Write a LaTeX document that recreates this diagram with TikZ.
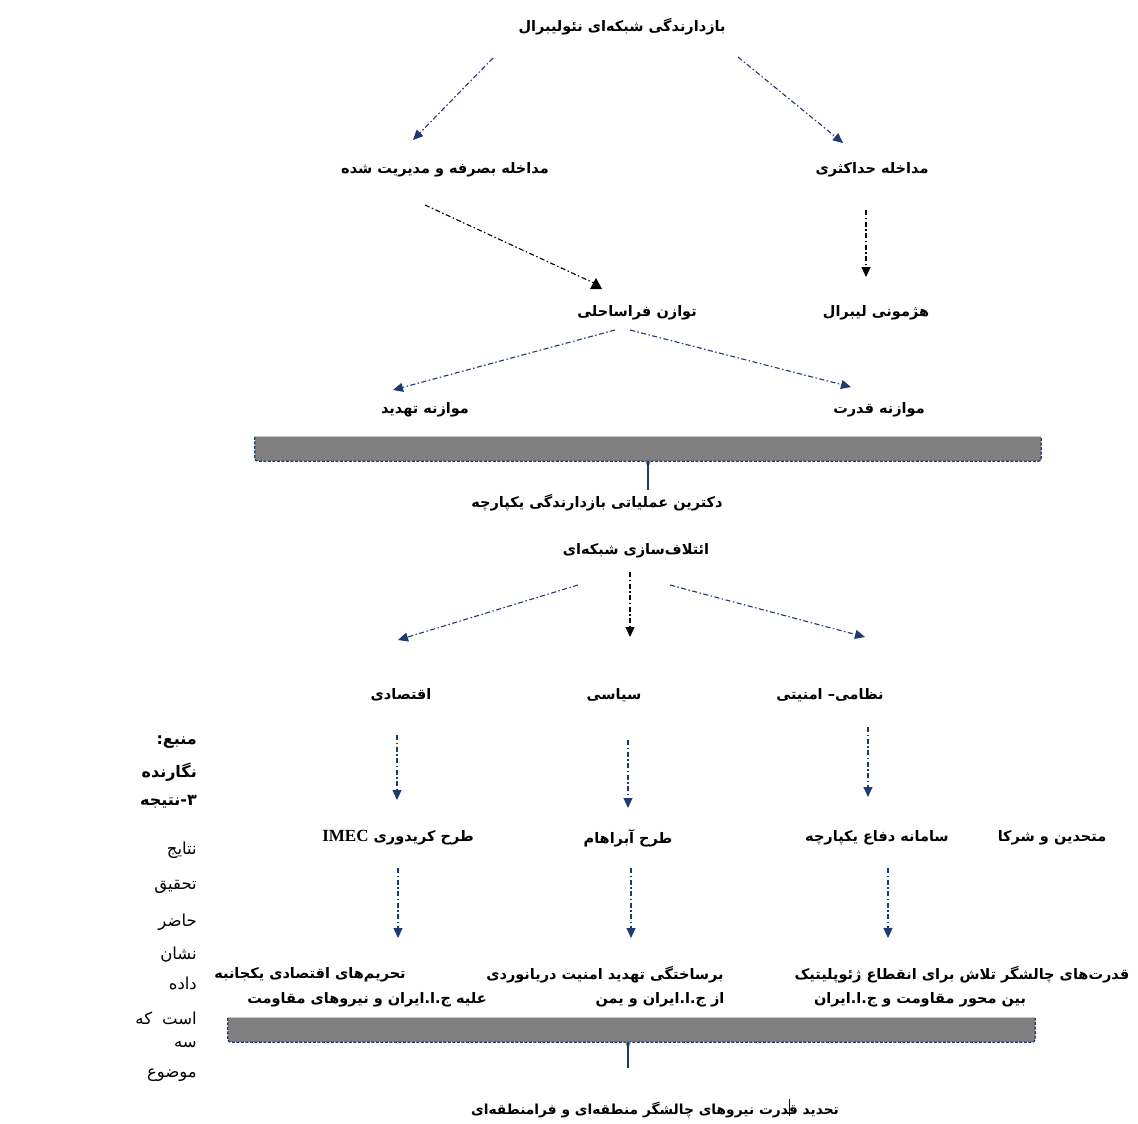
\documentclass[tikz,border=0pt]{standalone}
\usepackage{fontspec}
\usetikzlibrary{arrows.meta}
\TeXXeTstate=1
\newfontfamily\fa[Script=Arabic]{DejaVu Sans}
\newfontfamily\tms{Liberation Serif}
\definecolor{navy}{HTML}{1F3A6E}
\definecolor{bargray}{HTML}{808080}
\newcommand\RTLtxt[1]{\beginR #1\endR}
\tikzset{
  lbl/.style={inner sep=1pt, font=\fa\bfseries\fontsize{14.5}{16}\selectfont},
  side/.style={anchor=east, inner sep=0pt, font=\fa\fontsize{16.5}{18}\selectfont},
  sideb/.style={side, font=\fa\bfseries\fontsize{16}{18}\selectfont},
  arr/.style={-{Triangle[length=10pt,width=9pt]}, line width=1.1pt,
     dash pattern=on 5pt off 2.5pt on 1.5pt off 2.5pt, draw=navy},
  arrk/.style={arr, draw=black},
  bar/.style={fill=bargray, draw=none, inner sep=0pt, minimum height=24pt},
  barborder/.style={navy, line width=1.3pt, dash pattern=on 3pt off 1.5pt},
  stem/.style={navy, line width=1.1pt}
}
\begin{document}
\begin{tikzpicture}[x=1pt,y=-1pt]
\useasboundingbox[fill=white] (0,0) rectangle (1138,1124);

% --- text nodes
\node[lbl] (title) at (622,27) {\RTLtxt{بازدارندگی شبکه‌ای نئولیبرال}};
\node[lbl] (eff) at (445,170) {\RTLtxt{مداخله بصرفه و مدیریت شده}};
\node[lbl] (max) at (872,170) {\RTLtxt{مداخله حداکثری}};
\node[lbl] (off) at (637,313) {\RTLtxt{توازن فراساحلی}};
\node[lbl] (heg) at (876,313) {\RTLtxt{هژمونی لیبرال}};
\node[lbl] (thr) at (425,410) {\RTLtxt{موازنه تهدید}};
\node[lbl] (pow) at (879,410) {\RTLtxt{موازنه قدرت}};

\node[bar, minimum width=786pt] (bar1) at (648,449) {};
\node[lbl] (doc) at (597,503) {\RTLtxt{دکترین عملیاتی بازدارندگی یکپارچه}};
\node[lbl] (coal) at (636,551) {\RTLtxt{ائتلاف‌سازی شبکه‌ای}};

\node[lbl] (eco) at (401,695) {\RTLtxt{اقتصادی}};
\node[lbl] (pol) at (614,695) {\RTLtxt{سیاسی}};
\node[lbl] (mil) at (830,695) {\RTLtxt{نظامی– امنیتی}};

\node[lbl] (imec) at (398,838) {\RTLtxt{طرح کریدوری \beginL{\tms\bfseries\fontsize{17}{18}\selectfont IMEC}\endL}};
\node[lbl] (abr) at (628,838) {\RTLtxt{طرح آبراهام}};
\node[lbl] (def) at (877,838) {\RTLtxt{سامانه دفاع یکپارچه}};
\node[lbl] (ally) at (1052,838) {\RTLtxt{متحدین و شرکا}};

\node[lbl] (sanA) at (310,975) {\RTLtxt{تحریم‌های اقتصادی یکجانبه}};
\node[lbl] (sanB) at (367,1000) {\RTLtxt{علیه ج.ا.ایران و نیروهای مقاومت}};
\node[lbl] (marA) at (605,975) {\RTLtxt{برساختگی تهدید امنیت دریانوردی}};
\node[lbl] (marB) at (660,1000) {\RTLtxt{از ج.ا.ایران و یمن}};
\node[lbl] (geoA) at (962,975) {\RTLtxt{قدرت‌های چالشگر تلاش برای انقطاع ژئوپلیتیک}};
\node[lbl] (geoB) at (920,1000) {\RTLtxt{بین محور مقاومت و ج.ا.ایران}};

\node[bar, minimum width=807pt] (bar2) at (631.5,1030) {};
\node[lbl, font=\fa\bfseries\fontsize{13.8}{16}\selectfont] (fin) at (655,1110) {\RTLtxt{تحدید قدرت نیروهای چالشگر منطقه‌ای و فرامنطقه‌ای}};

% --- bar borders and stems
\foreach \b in {bar1,bar2}{
  \draw[gray!45, line width=1pt] (\b.north west) -- (\b.north east);
  \draw[barborder, rounded corners=3pt] (\b.north west) -- (\b.south west) -- (\b.south east) -- (\b.north east);
}
\coordinate (s1) at (648,461);
\coordinate (s1e) at (648,490);
\coordinate (s2) at (628,1042);
\coordinate (s2e) at (628,1068);
\fill[bargray] ([xshift=-3pt]s1) -- ([yshift=-7pt]s1) -- ([xshift=3pt]s1) -- cycle;
\draw[stem] (s1) -- (s1e);
\fill[bargray] ([xshift=-3pt]s2) -- ([yshift=-7pt]s2) -- ([xshift=3pt]s2) -- cycle;
\draw[stem] (s2) -- (s2e);
\coordinate (c1) at (789,1099);
\coordinate (c2) at (789,1116);
\draw[black, line width=0.6pt] (c1) -- (c2);

% --- connector end points
\coordinate (a1s) at (493,58);  \coordinate (a1e) at (413,140);
\coordinate (a2s) at (738,57);  \coordinate (a2e) at (843,143);
\coordinate (a3s) at (425,205); \coordinate (a3e) at (596,284);
\coordinate (a4s) at (866,210); \coordinate (a4e) at (866,277);
\coordinate (a5s) at (615,330); \coordinate (a5e) at (393,390);
\coordinate (a6s) at (630,330); \coordinate (a6e) at (851,387);
\coordinate (a7s) at (578,585); \coordinate (a7e) at (398,640);
\coordinate (a8s) at (630,572); \coordinate (a8e) at (630,637);
\coordinate (a9s) at (670,585); \coordinate (a9e) at (865,637);
\coordinate (b1s) at (397,735); \coordinate (b1e) at (397,800);
\coordinate (b2s) at (628,740); \coordinate (b2e) at (628,808);
\coordinate (b3s) at (868,727); \coordinate (b3e) at (868,797);
\coordinate (b4s) at (398,868); \coordinate (b4e) at (398,938);
\coordinate (b5s) at (631,868); \coordinate (b5e) at (631,938);
\coordinate (b6s) at (888,868); \coordinate (b6e) at (888,938);

\draw[arr] (a1s) -- (a1e);
\draw[arr] (a2s) -- (a2e);
\draw[arrk, -] (a3s) -- (a3e);
\fill[black] ([xshift=-6pt,yshift=-5pt]a3e) -- ([yshift=6pt]a3e) -- ([xshift=6pt,yshift=-5pt]a3e) -- cycle;
\draw[arrk] (a4s) -- (a4e);
\draw[arr] (a5s) -- (a5e);
\draw[arr] (a6s) -- (a6e);
\draw[arr] (a7s) -- (a7e);
\draw[arrk] (a8s) -- (a8e);
\draw[arr] (a9s) -- (a9e);
\foreach \k in {1,...,6}{\draw[arr] (b\k s) -- (b\k e);}

% --- side text
\node[sideb] (m1) at (197,742) {\RTLtxt{منبع:}};
\node[sideb] (m2) at (197,772) {\RTLtxt{نگارنده}};
\node[sideb] (m3) at (197,802) {\RTLtxt{۳-نتیجه}};
\node[side] (m4) at (197,850) {\RTLtxt{نتایج}};
\node[side] (m5) at (197,887) {\RTLtxt{تحقیق}};
\node[side] (m6) at (197,922) {\RTLtxt{حاضر}};
\node[side] (m7) at (197,955) {\RTLtxt{نشان}};
\node[side] (m8) at (197,983) {\RTLtxt{داده}};
\node[side] (m9) at (197,1018) {\RTLtxt{است\hspace{10pt}که}};
\node[side] (m10) at (197,1045) {\RTLtxt{سه}};
\node[side] (m11) at (197,1075) {\RTLtxt{موضوع}};
\end{tikzpicture}
\end{document}
